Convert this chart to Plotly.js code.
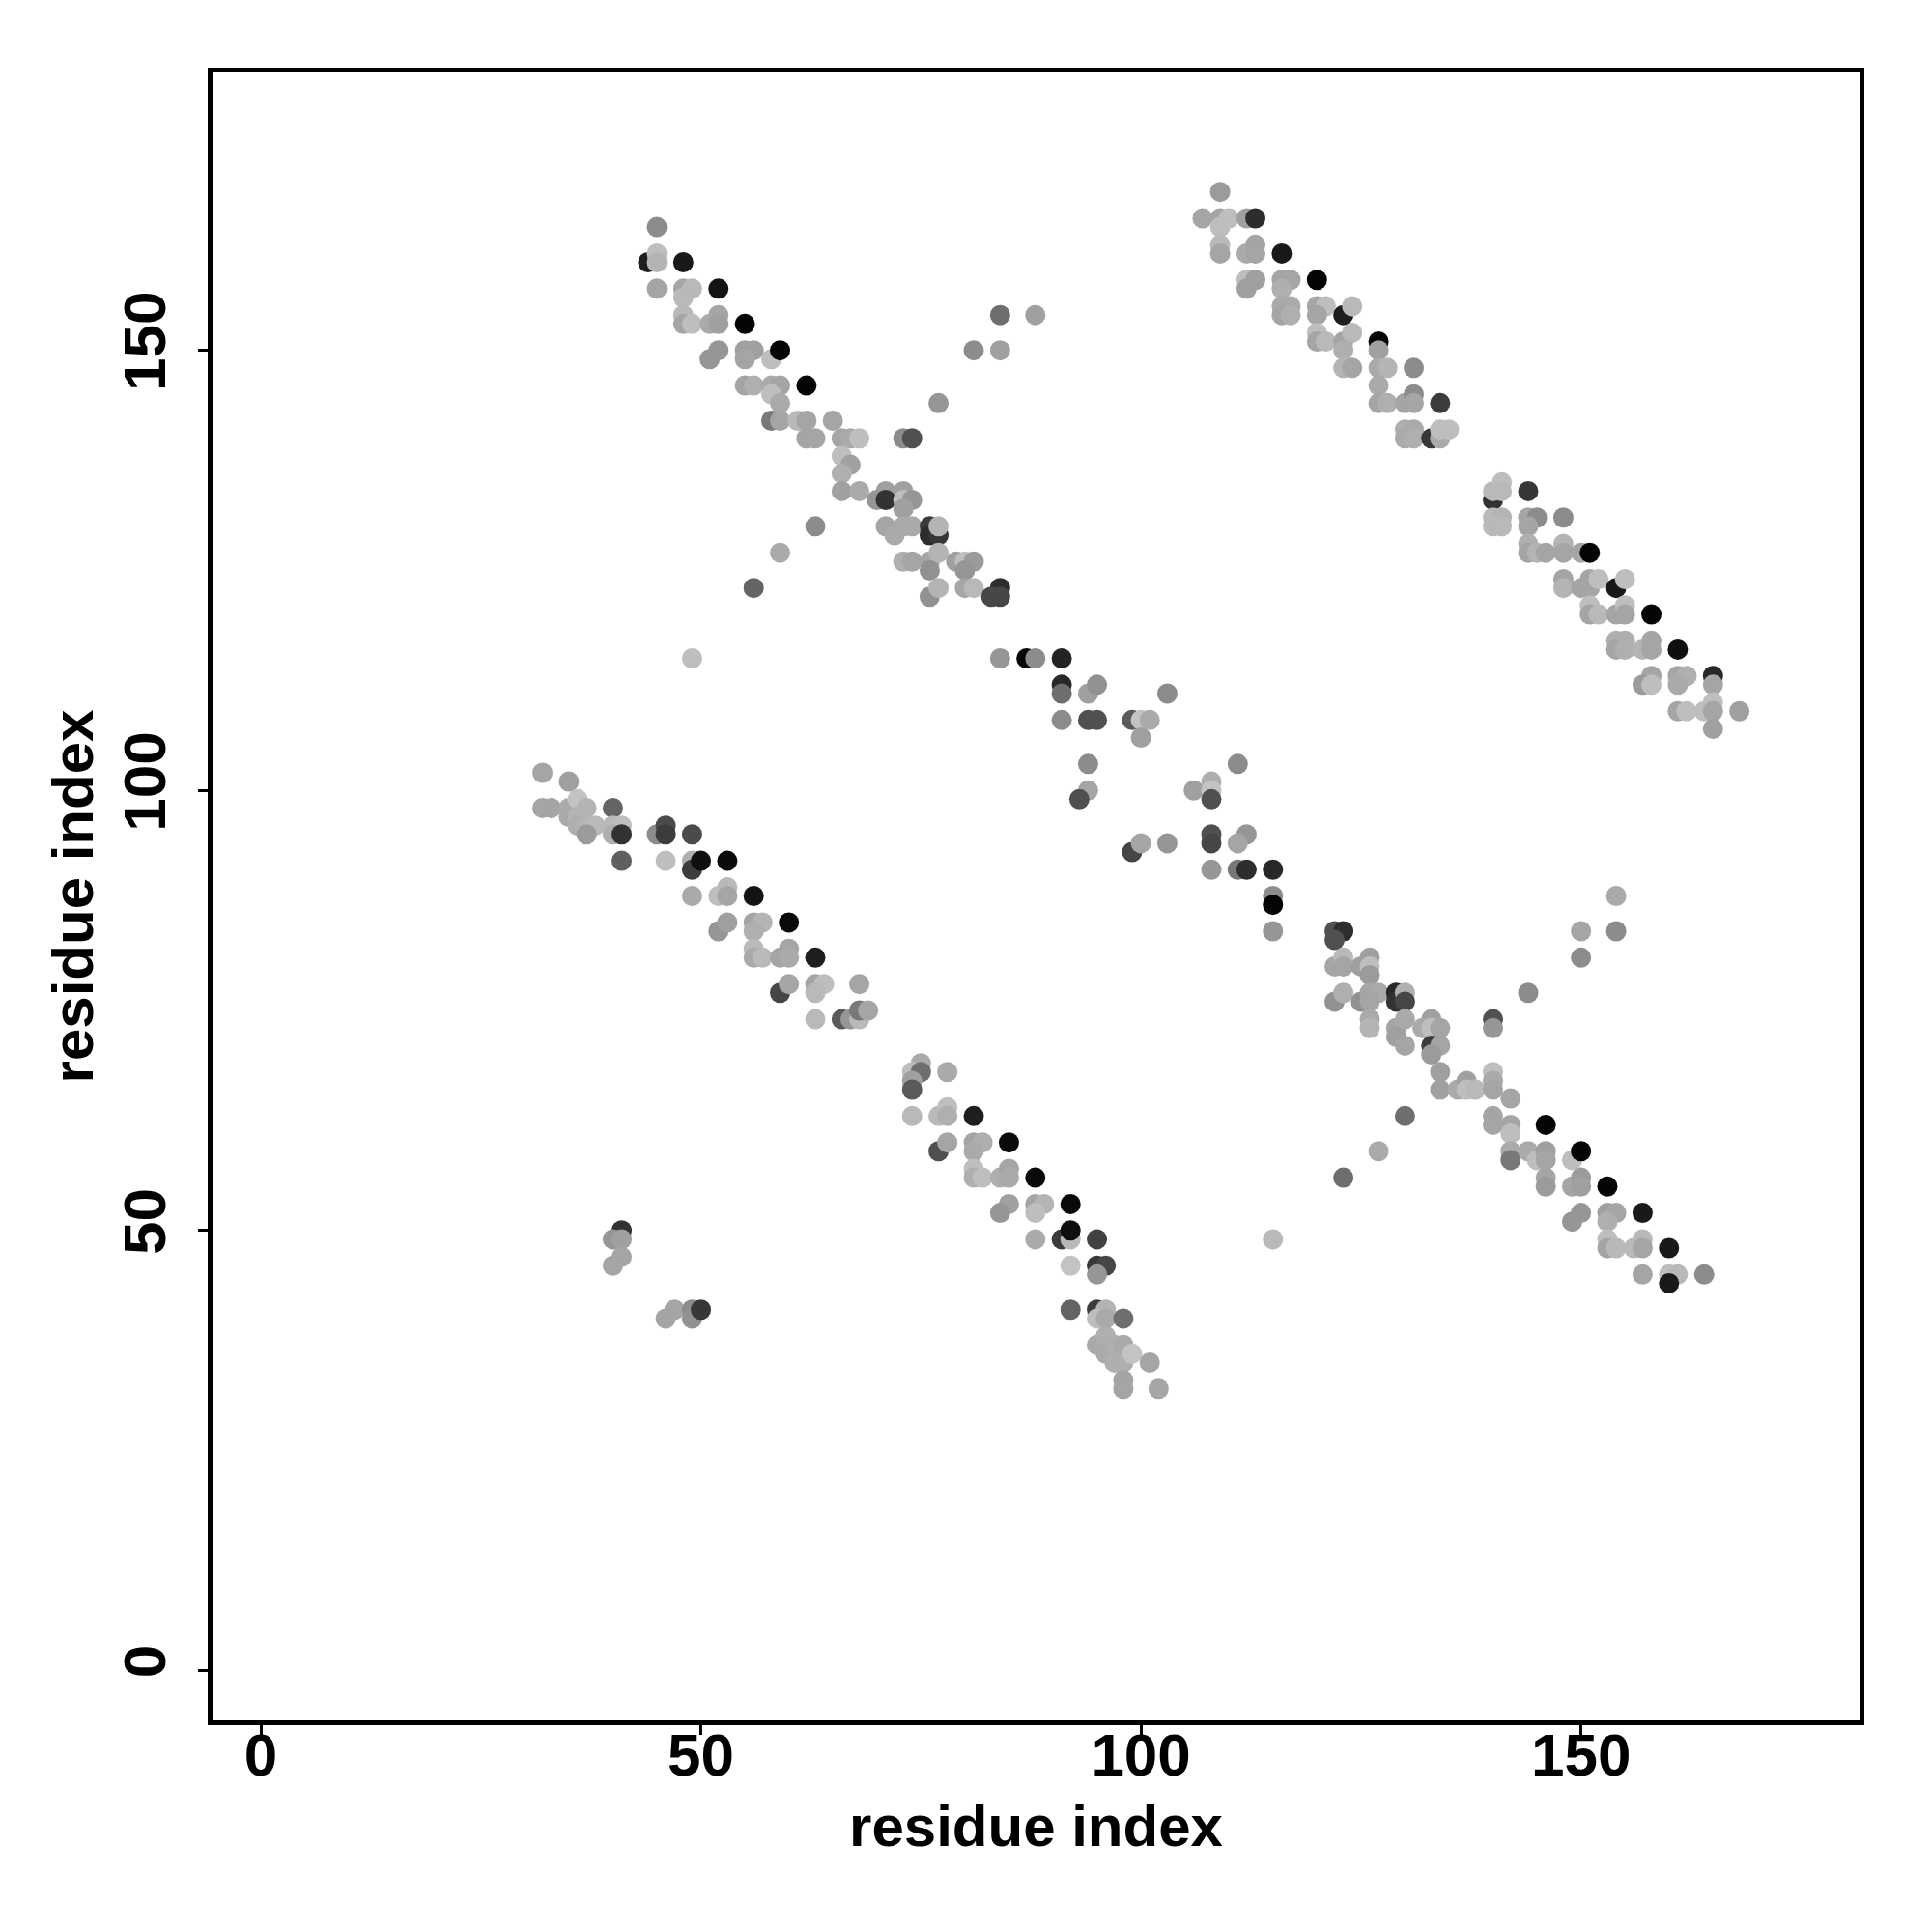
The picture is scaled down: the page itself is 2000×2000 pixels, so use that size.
<!DOCTYPE html>
<html>
<head>
<meta charset="utf-8">
<script src="https://cdn.plot.ly/plotly-3.0.1.min.js"></script>
<style>html,body{margin:0;padding:0;background:#fff;}#chart{width:2000px;height:2000px;}</style>
</head>
<body>
<div id="chart"></div>
<script>
// residue i, residue j, grey level (0 = black, 255 = white)
const resI = [45,44,45,45,48,45,48,49,48,52,48,48,49,51,52,52,55,52,51,55,56,55,58,59,55,56,58,59,58,59,62,58,59,61,62,65,62,63,66,67,68,73,74,77,84,88,81,84,66,67,66,66,68,71,73,70,71,73,74,73,63,71,72,73,74,76,76,77,77,59,73,74,76,77,76,79,80,81,80,56,76,77,80,81,84,83,84,
84,87,88,91,91,91,94,95,103,91,94,95,99,100,101,100,94,94,93,106,108,108,108,111,99,100,103,108,108,112,111,49,
108,111,112,115,115,115,115,122,123,122,122,123,123,125,126,126,126,122,123,125,126,127,126,129,129,130,130,126,126,129,130,129,130,133,132,133,134,133,134,133,134,134,136,137,137,138,140,140,140,140,140,140,140,130,127,123,115,
144,142,142,142,146,142,142,144,145,146,146,149,150,146,146,149,150,150,153,150,149,153,154,153,157,153,153,154,156,157,157,160,157,160,161,160,164,150,150,154,154,
109,107,109,110,109,112,113,109,109,112,113,113,116,112,113,112,116,117,116,120,116,117,116,117,120,121,120,123,124,120,120,121,123,124,123,127,127,123,124,127,128,131,127,127,128,130,131,131,134,130,131,130,131,133,134,134,135,
140,140,141,141,144,140,141,140,141,144,145,144,148,144,144,145,146,148,148,150,151,148,148,150,151,151,152,154,155,151,151,152,154,155,155,158,154,155,154,155,157,158,158,161,158,157,158,161,162,161,165,165,161,162,164,165,165,165,168,
32,35,32,33,35,36,35,36,37,36,37,38,37,40,40,41,40,41,41,45,46,46,49,46,49,49,50,53,49,52,53,53,56,52,53,56,57,56,60,56,56,57,59,60,60,63,59,60,63,64,63,68,63,66,67,68,68,69,
41,40,41,41,40,46,47,49,49,50,
75,74,75,74,74,78,74,77,78,78,81,77,78,81,82,81,85,81,81,82,84,85,85,88,85,84,88,89,88,92,88,91,92,92,95,92,95,96,95,92,95,96,95,96,98,95,96,96,97,98,97,98,99,101,98,98,102];
const resJ = [164,160,161,160,160,157,157,157,156,157,154,153,153,153,154,153,153,150,149,150,150,149,149,150,146,146,146,146,145,144,146,142,142,142,142,142,140,140,140,140,140,140,140,144,154,154,150,150,138,137,136,134,134,134,134,133,133,133,133,132,130,130,129,130,130,130,129,129,130,127,126,126,126,127,125,126,126,126,125,123,122,123,123,123,123,122,122,
115,115,115,115,112,111,111,112,111,108,108,108,108,108,108,106,103,100,99,100,101,100,99,103,93,94,94,95,94,95,94,115,
91,91,91,91,88,87,84,84,84,83,80,81,80,80,81,80,79,76,77,76,77,77,76,77,76,77,76,74,73,73,74,72,71,74,73,73,73,71,71,70,68,66,66,67,66,66,74,73,68,67,66,63,62,63,59,56,49,
77,65,62,61,62,59,58,59,58,59,58,58,59,56,55,55,56,55,55,52,51,52,52,51,52,49,48,48,48,49,48,48,45,45,45,44,45,84,81,88,84,
168,165,165,165,164,165,165,162,161,161,162,161,161,158,158,157,158,158,157,158,155,155,154,154,155,155,154,154,155,152,151,151,151,152,150,151,150,148,148,148,148,148,146,144,144,144,145,144,144,141,141,140,140,140,140,141,141,
133,134,135,134,134,131,131,130,130,131,131,130,131,128,127,127,127,128,127,127,127,124,123,123,124,123,124,123,124,121,120,120,120,121,120,120,117,117,116,116,116,117,116,116,113,112,112,113,113,112,113,112,109,109,109,110,109,107,109,
102,101,98,98,98,99,97,97,98,96,96,96,95,98,96,96,95,95,92,95,96,95,95,92,92,91,92,92,88,88,89,88,88,84,85,85,85,84,85,82,81,81,81,82,81,81,77,78,78,78,77,78,74,74,74,74,75,75,
50,49,49,47,46,40,41,41,40,41,
69,68,68,67,66,68,63,63,64,63,63,59,60,60,60,59,60,57,56,56,56,57,56,56,53,52,53,53,52,53,49,49,49,50,49,46,46,46,45,41,41,41,40,40,40,37,38,36,37,37,35,35,36,35,33,32,32];
const grey = [140,30,190,180,25,165,165,185,185,20,185,165,190,170,165,160,5,150,150,160,160,165,190,5,165,175,170,165,190,170,5,120,165,185,165,165,165,165,165,170,190,140,80,150,110,160,140,160,190,160,175,160,170,160,160,150,50,190,150,160,140,165,170,170,170,60,45,55,180,170,175,165,165,180,145,160,190,155,150,100,145,180,165,185,45,70,70,
150,5,140,35,40,110,160,145,140,140,80,80,90,195,170,160,140,165,80,160,175,195,80,140,70,165,150,80,70,150,165,190,
150,120,45,40,140,5,150,80,45,80,165,185,165,160,160,190,155,145,175,145,165,170,165,40,50,175,70,170,180,165,170,160,165,160,170,190,165,60,165,155,160,160,170,160,190,185,80,150,190,170,165,165,165,110,170,110,185,
140,165,165,190,5,170,120,170,190,160,165,190,5,165,155,165,155,160,5,150,150,160,165,175,25,190,165,185,185,185,165,25,165,190,185,25,140,165,140,170,140,
155,165,165,190,190,160,45,185,165,170,165,165,25,190,160,160,165,165,175,5,170,170,165,175,165,190,165,30,185,190,165,185,165,185,175,5,160,180,165,170,180,140,170,165,175,165,140,165,60,175,170,170,175,55,170,190,190,
50,185,190,185,55,185,180,185,185,165,140,165,140,175,165,180,165,180,165,165,5,165,180,165,165,165,190,25,190,190,165,185,165,190,165,5,175,175,165,175,180,165,165,15,165,155,190,165,175,170,40,165,165,190,190,190,165,160,160,
165,160,165,165,170,195,170,180,180,175,180,185,155,100,185,190,175,50,95,140,75,60,75,190,175,60,15,10,170,190,185,165,20,150,160,165,180,175,10,185,170,185,165,165,170,30,70,165,165,190,185,165,185,90,150,185,120,165,
50,150,160,165,165,165,165,140,145,55,
170,190,110,160,90,170,185,185,190,175,30,80,165,165,175,170,10,190,175,190,175,165,170,10,160,150,165,180,190,10,170,60,185,15,65,195,55,70,150,100,60,180,190,170,110,170,175,170,175,170,175,175,195,165,165,165,165];

const xTicks = [0, 50, 100, 150];
const yTicks = [0, 50, 100, 150];
const axisLabel = 'residue index';

const colors = grey.map(g => 'rgb(' + g + ',' + g + ',' + g + ')');

const trace = {
  type: 'scatter',
  mode: 'markers',
  x: resI,
  y: resJ,
  marker: {size: 21, color: colors, line: {width: 0}, opacity: 1},
  hoverinfo: 'x+y'
};

const fontFam = '"Liberation Sans", Arial, Helvetica, sans-serif';

const layout = {
  width: 2000,
  height: 2000,
  paper_bgcolor: '#ffffff',
  plot_bgcolor: '#ffffff',
  showlegend: false,
  margin: {l: 220, r: 75, t: 75, b: 219, pad: 0},
  xaxis: {
    range: [-5.49, 181.65],
    autorange: false,
    tickmode: 'array',
    tickvals: xTicks,
    ticktext: xTicks.map(String),
    ticks: 'outside',
    ticklen: 10,
    tickwidth: 3,
    tickcolor: '#000',
    ticklabelstandoff: -32,
    showgrid: false,
    zeroline: false,
    showline: true,
    linewidth: 5,
    linecolor: '#000',
    mirror: true,
    automargin: false,
    tickfont: {family: fontFam, size: 62, color: '#000', weight: 'bold'},
    title: {text: axisLabel, font: {family: fontFam, size: 60, color: '#000', weight: 'bold'}, standoff: 20}
  },
  yaxis: {
    range: [-5.67, 181.57],
    autorange: false,
    tickmode: 'array',
    tickvals: yTicks,
    ticktext: yTicks.map(String),
    ticks: 'outside',
    ticklen: 10,
    tickwidth: 3,
    tickcolor: '#000',
    tickangle: -90,
    ticklabelstandoff: 9,
    showgrid: false,
    zeroline: false,
    showline: true,
    linewidth: 5,
    linecolor: '#000',
    mirror: true,
    automargin: false,
    tickfont: {family: fontFam, size: 62, color: '#000', weight: 'bold'},
    title: {text: axisLabel, font: {family: fontFam, size: 60, color: '#000', weight: 'bold'}, standoff: 1}
  }
};

Plotly.newPlot('chart', [trace], layout, {displayModeBar: false, staticPlot: true});
</script>
</body>
</html>
